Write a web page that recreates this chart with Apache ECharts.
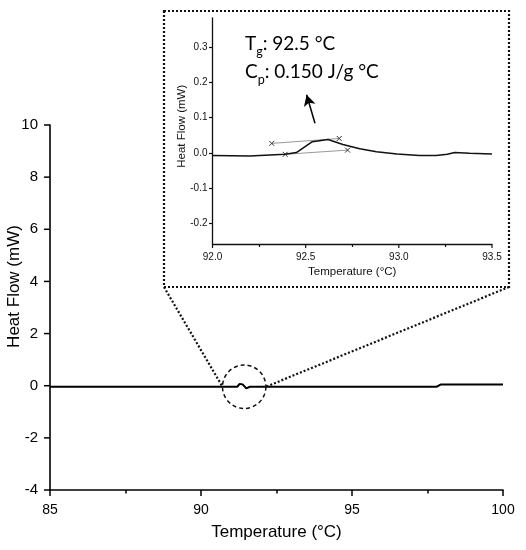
<!DOCTYPE html>
<html><head><meta charset="utf-8">
<script src="https://cdn.jsdelivr.net/npm/echarts@6/dist/echarts.min.js"></script>
<style>html,body{margin:0;padding:0;background:#fff}#c{width:526px;height:550px}</style>
</head><body><div id="c"></div>
<script>
// Main DSC trace (Temperature °C, Heat Flow mW)
const mainTemp = [85, 91.2, 91.28, 91.38, 91.5, 91.62, 97.8, 97.95, 100];
const mainFlow = [-0.04, -0.04, 0.07, 0.05, -0.1, -0.04, -0.04, 0.05, 0.05];
// Inset zoomed trace
const insetTemp = [92.0, 92.2, 92.39, 92.45, 92.536, 92.62, 92.70, 92.79, 92.88, 92.99, 93.11, 93.2, 93.26, 93.3, 93.38, 93.5];
const insetFlow = [-0.007, -0.009, -0.004, 0.001, 0.032, 0.038, 0.024, 0.012, 0.003, -0.003, -0.007, -0.007, -0.004, 0.001, -0.001, -0.003];
// Tangent construction lines (x markers at ends)
const upperTangentTemp = [92.318, 92.68];
const upperTangentFlow = [0.027, 0.041];
const lowerTangentTemp = [92.39, 92.725];
const lowerTangentFlow = [-0.004, 0.008];
// Arrow (tail -> head)
const arrowTemp = [92.55, 92.505];
const arrowFlow = [0.084, 0.165];
// Tick labels / major ticks
const mainXTicks = [85, 90, 95, 100];
const mainYTicks = [-4, -2, 0, 2, 4, 6, 8, 10];
const insetYTicks = [-0.2, -0.1, 0.0, 0.1, 0.2, 0.3];
const insetXTicks = [92.0, 92.5, 93.0, 93.5];
// Minor ticks
const mainXMinorTicks = [87.5, 92.5, 97.5];
const insetXMinorTicks = [92.25, 92.75, 93.25];
// Zoom circle location on main trace
const zoomCenter = [91.43, -0.04];

const zip = (a, b) => a.map((v, i) => [v, b[i]]);
const xSym = 'path://M0,0L10,10M10,0L0,10';
const F = 'Liberation Sans, Arial, sans-serif';
const TF = 'Lato, Open Sans, sans-serif';

function tickAxis(gridIndex, position, min, max, values, len, width, color) {
  return {
    gridIndex, type: 'value', min, max, position,
    axisLine: {show: false, onZero: false},
    axisLabel: {show: false},
    splitLine: {show: false},
    axisTick: {show: true, inside: false, length: len, customValues: values, lineStyle: {color, width}}
  };
}

const chart = echarts.init(document.getElementById('c'), null, {renderer: 'canvas'});

chart.setOption({
  animation: false,
  backgroundColor: '#fff',
  title: {
    left: 245, top: 30, padding: 0,
    text: '{a|T}{s|g}{a|: 92.5 °C}\n{a|C}{s|p}{a|: 0.150 J/g °C}',
    textStyle: {
      fontWeight: 'normal',
      rich: {
        a: {fontFamily: TF, fontSize: 19, fontWeight: 'normal', color: '#000', lineHeight: 28},
        s: {fontFamily: TF, fontSize: 12.5, fontWeight: 'normal', color: '#000', lineHeight: 14, verticalAlign: 'bottom'}
      }
    }
  },
  grid: [
    {left: 50, right: 23, top: 125, bottom: 60, outerBoundsMode: 'none', containLabel: false},
    {left: 212.5, right: 34, top: 18, bottom: 305.5, outerBoundsMode: 'none', containLabel: false}
  ],
  xAxis: [
    {
      gridIndex: 0, type: 'value', min: 85, max: 100, position: 'bottom',
      name: 'Temperature (°C)', nameLocation: 'middle', nameGap: 34, nameMoveOverlap: false,
      nameTextStyle: {fontFamily: F, fontSize: 17, color: '#000'},
      axisLine: {onZero: false, lineStyle: {color: '#000', width: 1.6}},
      axisTick: {show: false},
      axisLabel: {fontFamily: F, fontSize: 14, color: '#000', margin: 13, customValues: mainXTicks},
      splitLine: {show: false}
    },
    {
      gridIndex: 1, type: 'value', min: 92, max: 93.5, position: 'bottom',
      name: 'Temperature (°C)', nameLocation: 'middle', nameGap: 21, nameMoveOverlap: false,
      nameTextStyle: {fontFamily: F, fontSize: 11.5, color: '#111'},
      axisLine: {onZero: false, lineStyle: {color: '#111', width: 1.3}},
      axisTick: {show: false},
      axisLabel: {fontFamily: F, fontSize: 10, color: '#111', margin: 8,
        customValues: insetXTicks, formatter: v => v.toFixed(1)},
      splitLine: {show: false}
    },
    tickAxis(0, 'bottom', 85, 100, mainXMinorTicks, 3.5, 1.5, '#000'),
    tickAxis(1, 'bottom', 92, 93.5, insetXMinorTicks, 2.5, 1.2, '#111')
  ],
  yAxis: [
    {
      gridIndex: 0, type: 'value', min: -4, max: 10, position: 'left',
      name: 'Heat Flow (mW)', nameLocation: 'middle', nameGap: 27, nameMoveOverlap: false,
      nameTextStyle: {fontFamily: F, fontSize: 17, color: '#000', padding: [0, 0, 0, 42]},
      axisLine: {onZero: false, lineStyle: {color: '#000', width: 1.6}},
      axisTick: {show: false},
      axisLabel: {fontFamily: F, fontSize: 15, color: '#000', margin: 12, customValues: mainYTicks},
      splitLine: {show: false}
    },
    {
      gridIndex: 1, type: 'value', min: -0.26, max: 0.383, position: 'left',
      name: 'Heat Flow (mW)', nameLocation: 'middle', nameGap: 25, nameMoveOverlap: false,
      nameTextStyle: {fontFamily: F, fontSize: 11.5, color: '#111', padding: [0, 0, 0, 10]},
      axisLine: {onZero: false, lineStyle: {color: '#111', width: 1.3}},
      axisTick: {show: false},
      axisLabel: {fontFamily: F, fontSize: 10, color: '#111', margin: 5,
        customValues: insetYTicks, formatter: v => v.toFixed(1)},
      splitLine: {show: false}
    },
    tickAxis(1, 'left', -0.26, 0.383, insetYTicks, 3.5, 1.2, '#111')
  ],
  series: [
    {
      type: 'line', xAxisIndex: 0, yAxisIndex: 0, data: zip(mainTemp, mainFlow),
      showSymbol: false, lineStyle: {color: '#000', width: 2}, z: 3
    },
    {
      type: 'line', xAxisIndex: 1, yAxisIndex: 1, data: zip(insetTemp, insetFlow),
      showSymbol: false, lineStyle: {color: '#111', width: 1.5}, z: 3,
      markLine: {
        silent: true, symbol: ['none', 'arrow'], symbolSize: [9, 11],
        label: {show: false},
        lineStyle: {color: '#000', width: 1.5, type: 'solid'},
        data: [[{coord: [arrowTemp[0], arrowFlow[0]]}, {coord: [arrowTemp[1], arrowFlow[1]]}]]
      }
    },
    {
      type: 'line', xAxisIndex: 1, yAxisIndex: 1, data: zip(upperTangentTemp, upperTangentFlow),
      symbol: xSym, symbolSize: 5, showSymbol: true,
      itemStyle: {color: 'none', borderColor: '#333', borderWidth: 1},
      lineStyle: {color: '#999', width: 1}, z: 2
    },
    {
      type: 'line', xAxisIndex: 1, yAxisIndex: 1, data: zip(lowerTangentTemp, lowerTangentFlow),
      symbol: xSym, symbolSize: 5, showSymbol: true,
      itemStyle: {color: 'none', borderColor: '#333', borderWidth: 1},
      lineStyle: {color: '#999', width: 1}, z: 2
    }
  ]
});

// Major ticks placed through the axes' own scales, plus zoom decorations
const mainPx = v => chart.convertToPixel({xAxisIndex: 0, yAxisIndex: 0}, v);
const insetPx = v => chart.convertToPixel({xAxisIndex: 1, yAxisIndex: 1}, v);
const graphics = [];
const tickStyle = (w, col) => ({stroke: col, lineWidth: w});
mainXTicks.forEach(v => {
  const p = mainPx([v, -4]);
  graphics.push({type: 'line', shape: {x1: p[0], y1: p[1], x2: p[0], y2: p[1] + 6}, style: tickStyle(1.5, '#000'), z: 5});
});
mainYTicks.forEach(v => {
  const p = mainPx([85, v]);
  graphics.push({type: 'line', shape: {x1: p[0] - 6, y1: p[1], x2: p[0], y2: p[1]}, style: tickStyle(1.5, '#000'), z: 5});
});
insetXTicks.forEach(v => {
  const p = insetPx([v, -0.26]);
  graphics.push({type: 'line', shape: {x1: p[0], y1: p[1], x2: p[0], y2: p[1] + 3.5}, style: tickStyle(1.2, '#111'), z: 5});
});

const c = mainPx(zoomCenter);
const r = 21.7;
const gTL = insetPx([92, 0.383]);
const gBR = insetPx([93.5, -0.26]);
const box = {x1: gTL[0] - 48.5, y1: gTL[1] - 7, x2: gBR[0] + 17, y2: gBR[1] + 42.5};
const dotted = {stroke: '#111', lineWidth: 2.2, lineDash: [2, 2], fill: null};
graphics.push(
  {type: 'rect', shape: {x: box.x1, y: box.y1, width: box.x2 - box.x1, height: box.y2 - box.y1}, style: dotted, z: 10},
  {type: 'line', shape: {x1: box.x1, y1: box.y2, x2: c[0] - r, y2: c[1]}, style: dotted, z: 10},
  {type: 'line', shape: {x1: box.x2, y1: box.y2, x2: c[0] + r, y2: c[1]}, style: dotted, z: 10},
  {type: 'circle', shape: {cx: c[0], cy: c[1], r: r}, style: {stroke: '#111', lineWidth: 1.5, lineDash: [4, 3], fill: null}, z: 10}
);
chart.setOption({graphic: graphics});
</script></body></html>
